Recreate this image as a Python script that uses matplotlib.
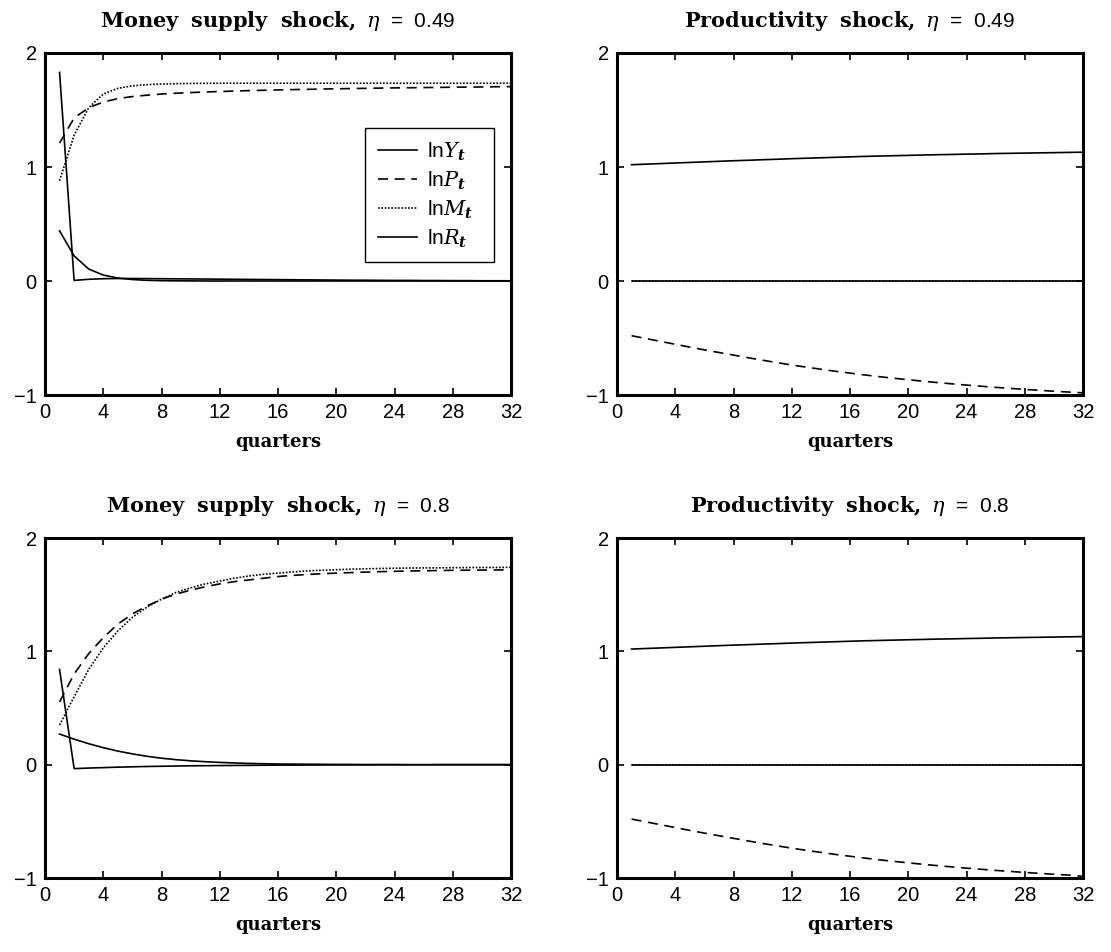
import matplotlib
matplotlib.use("Agg")
import matplotlib.pyplot as plt
import numpy as np

plt.rcParams['font.family'] = ['Liberation Sans', 'DejaVu Sans']
plt.rcParams['mathtext.fontset'] = 'dejavuserif'

quarters = list(range(1, 33))
xticks = [0, 4, 8, 12, 16, 20, 24, 28, 32]
yticks = [-1, 0, 1, 2]

titles = [r'$\mathbf{Money\ \ supply\ \ shock,}\ \eta$  =  0.49',
          r'$\mathbf{Productivity\ \ shock,}\ \eta$  =  0.49',
          r'$\mathbf{Money\ \ supply\ \ shock,}\ \eta$  =  0.8',
          r'$\mathbf{Productivity\ \ shock,}\ \eta$  =  0.8']
xlabel_text = 'quarters'
legend_labels = [r'ln$Y_{\boldsymbol{t}}$', r'ln$P_{\boldsymbol{t}}$',
                 r'ln$M_{\boldsymbol{t}}$', r'ln$R_{\boldsymbol{t}}$']

# Money supply shock, eta = 0.49
money049_Y = [1.83, 0.005, 0.015, 0.020, 0.022, 0.022, 0.021, 0.020, 0.019, 0.018,
              0.017, 0.016, 0.015, 0.014, 0.013, 0.012, 0.011, 0.010, 0.009, 0.008,
              0.007, 0.007, 0.006, 0.005, 0.005, 0.004, 0.004, 0.003, 0.003, 0.002,
              0.002, 0.002]
money049_P = [1.21, 1.43, 1.52, 1.57, 1.60, 1.618, 1.630, 1.640, 1.647, 1.653,
              1.658, 1.662, 1.666, 1.670, 1.673, 1.676, 1.679, 1.681, 1.684, 1.686,
              1.688, 1.690, 1.692, 1.694, 1.695, 1.697, 1.698, 1.700, 1.701, 1.702,
              1.704, 1.705]
money049_M = [0.88, 1.28, 1.52, 1.64, 1.69, 1.712, 1.722, 1.728, 1.731, 1.733,
              1.734, 1.735, 1.735, 1.735, 1.735, 1.735, 1.735, 1.735, 1.735, 1.735,
              1.735, 1.735, 1.735, 1.735, 1.735, 1.735, 1.735, 1.735, 1.735, 1.735,
              1.735, 1.735]
money049_R = [0.44, 0.22, 0.105, 0.052, 0.026, 0.013, 0.006, 0.003, 0.0015, 0.001,
              0.0, 0.0, 0.0, 0.0, 0.0, 0.0, 0.0, 0.0, 0.0, 0.0,
              0.0, 0.0, 0.0, 0.0, 0.0, 0.0, 0.0, 0.0, 0.0, 0.0,
              0.0, 0.0]

# Productivity shock, eta = 0.49
prod049_Y = [1.020, 1.025, 1.030, 1.035, 1.040, 1.045, 1.050, 1.055, 1.059, 1.064,
             1.068, 1.073, 1.077, 1.081, 1.085, 1.089, 1.093, 1.096, 1.099, 1.102,
             1.105, 1.108, 1.110, 1.113, 1.115, 1.118, 1.120, 1.122, 1.124, 1.126,
             1.128, 1.130]
prod049_P = [-0.480, -0.505, -0.530, -0.555, -0.580, -0.604, -0.627, -0.650, -0.673, -0.695,
             -0.716, -0.737, -0.756, -0.774, -0.792, -0.808, -0.824, -0.839, -0.853, -0.866,
             -0.879, -0.891, -0.902, -0.913, -0.923, -0.933, -0.942, -0.951, -0.959, -0.967,
             -0.974, -0.981]
prod049_M = [0.0] * 32
prod049_R = [0.0] * 32

# Money supply shock, eta = 0.8
money080_Y = [0.84, -0.035, -0.030, -0.026, -0.022, -0.019, -0.016, -0.014, -0.012, -0.010,
              -0.009, -0.008, -0.007, -0.006, -0.005, -0.004, -0.004, -0.003, -0.003, -0.002,
              -0.002, -0.002, -0.001, -0.001, -0.001, -0.001, 0.0, 0.0, 0.0, 0.0,
              0.0, 0.0]
money080_P = [0.553, 0.80, 0.98, 1.12, 1.24, 1.33, 1.40, 1.46, 1.505, 1.54,
              1.57, 1.595, 1.615, 1.63, 1.645, 1.66, 1.67, 1.678, 1.685, 1.69,
              1.695, 1.699, 1.703, 1.706, 1.709, 1.711, 1.713, 1.715, 1.716, 1.717,
              1.718, 1.719]
money080_M = [0.35, 0.60, 0.84, 1.03, 1.18, 1.30, 1.39, 1.46, 1.52, 1.56,
              1.595, 1.62, 1.645, 1.665, 1.68, 1.69, 1.70, 1.71, 1.715, 1.72,
              1.725, 1.728, 1.731, 1.733, 1.735, 1.736, 1.737, 1.738, 1.739, 1.740,
              1.740, 1.741]
money080_R = [0.27, 0.225, 0.185, 0.150, 0.120, 0.095, 0.074, 0.057, 0.044, 0.034,
              0.026, 0.020, 0.015, 0.011, 0.008, 0.006, 0.005, 0.004, 0.003, 0.002,
              0.002, 0.001, 0.001, 0.001, 0.0, 0.0, 0.0, 0.0, 0.0, 0.0,
              0.0, 0.0]

# Productivity shock, eta = 0.8
prod080_Y = [1.020, 1.025, 1.030, 1.035, 1.040, 1.045, 1.050, 1.055, 1.059, 1.064,
             1.068, 1.073, 1.077, 1.081, 1.085, 1.089, 1.093, 1.096, 1.099, 1.102,
             1.105, 1.108, 1.110, 1.113, 1.115, 1.118, 1.120, 1.122, 1.124, 1.126,
             1.128, 1.130]
prod080_P = [-0.480, -0.505, -0.530, -0.555, -0.580, -0.604, -0.627, -0.650, -0.673, -0.695,
             -0.716, -0.737, -0.756, -0.774, -0.792, -0.808, -0.824, -0.839, -0.853, -0.866,
             -0.879, -0.891, -0.902, -0.913, -0.923, -0.933, -0.942, -0.951, -0.959, -0.967,
             -0.974, -0.985]
prod080_M = [0.0] * 32
prod080_R = [0.0] * 32

panels = [
    (money049_Y, money049_P, money049_M, money049_R),
    (prod049_Y, prod049_P, prod049_M, prod049_R),
    (money080_Y, money080_P, money080_M, money080_R),
    (prod080_Y, prod080_P, prod080_M, prod080_R),
]

W, H = 1111, 952
fig = plt.figure(figsize=(W / 100, H / 100), dpi=100)

# axes rectangles in pixels: left, top, right, bottom
rects = [(45, 53, 511, 395), (617, 53, 1083, 395),
         (45, 538, 511, 878), (617, 538, 1083, 878)]

styles = [dict(ls='-', lw=1.2), dict(ls=(0, (6, 4)), lw=1.2),
          dict(ls=(0, (1, 1)), lw=1.2), dict(ls='-', lw=1.2)]

for i, ((l, t, r, b), series) in enumerate(zip(rects, panels)):
    ax = fig.add_axes([l / W, 1 - b / H, (r - l) / W, (b - t) / H])
    handles = []
    for s, st in zip(series, styles):
        h, = ax.plot(quarters, s, color='black', **st)
        handles.append(h)
    ax.set_xlim(0, 32)
    ax.set_ylim(-1, 2)
    ax.set_xticks(xticks)
    ax.set_yticks(yticks)
    ax.tick_params(direction='in', top=True, right=True, length=5, width=1.2,
                   labelsize=14.5, pad=6)
    for sp in ax.spines.values():
        sp.set_linewidth(2.2)
    ax.set_title(titles[i], fontsize=15, pad=19)
    ax.set_xlabel(xlabel_text, fontsize=13, fontweight='bold',
                  family='DejaVu Serif', labelpad=8)
    if i == 0:
        leg = ax.legend(handles, legend_labels, loc='upper left',
                        bbox_to_anchor=(0.687, 0.781, 0.277, 0.0),
                        mode='expand', fontsize=15,
                        frameon=True, fancybox=False, framealpha=1,
                        edgecolor='black', handlelength=1.9,
                        handletextpad=0.45, labelspacing=0.32,
                        borderpad=0.6, borderaxespad=0.0)
        leg.get_frame().set_linewidth(1.0)

fig.savefig('out.png', dpi=100)
